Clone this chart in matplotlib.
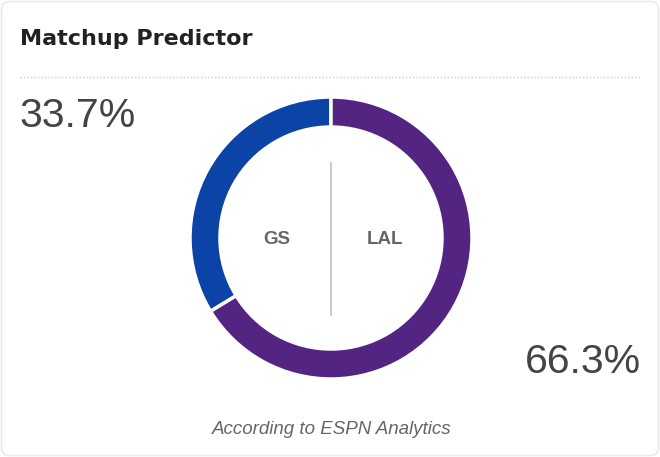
import matplotlib.pyplot as plt
from matplotlib.patches import FancyBboxPatch

teams = ['GS', 'LAL']
win_prob = [33.7, 66.3]
team_colors = ['#0b43a6', '#532482']
prob_labels = ['33.7%', '66.3%']
title = 'Matchup Predictor'
footer = 'According to ESPN Analytics'

W, H = 660, 457
fig = plt.figure(figsize=(W / 100, H / 100), dpi=100)
ax = fig.add_axes([0, 0, 1, 1])

def Y(y):
    # pixel row (from top) to data y
    return H - y

cx, cy = 331, 238
ax.pie(win_prob, colors=team_colors, startangle=90, counterclock=True,
       radius=141, center=(cx, Y(cy)),
       wedgeprops=dict(width=30, edgecolor='white', linewidth=2.5))

# card border
ax.add_patch(FancyBboxPatch((1.5, 1.5), W - 3, H - 3,
                            boxstyle='round,pad=0,rounding_size=8',
                            fc='none', ec='#ebebeb', lw=1.2, zorder=0))

ax.text(20, Y(39), title, fontsize=16, fontweight='heavy',
        color='#222222', va='center', ha='left', family='DejaVu Sans')
ax.plot([20, 641], [Y(77), Y(77)], color='#cccccc', lw=1, ls=(0, (1, 1.5)))

ax.text(19, Y(116), prob_labels[0], fontsize=29.5, color='#444444',
        va='center', ha='left', family='Liberation Sans')
ax.text(641, Y(362), prob_labels[1], fontsize=29.5, color='#444444',
        va='center', ha='right', family='Liberation Sans')

# divider and team labels inside the ring
ax.plot([cx, cx], [Y(163), Y(315)], color='#cccccc', lw=1.5)
ax.text(277, Y(240), teams[0], fontsize=13.5, fontweight='bold', color='#666666',
        va='center', ha='center', family='Liberation Sans')
ax.text(385, Y(240), teams[1], fontsize=13.5, fontweight='bold', color='#666666',
        va='center', ha='center', family='Liberation Sans')

ax.text(332, Y(430), footer, fontsize=13.5, style='italic', color='#666666',
        va='center', ha='center', family='Liberation Sans')

ax.set_xlim(0, W)
ax.set_ylim(0, H)
ax.set_aspect('auto')
ax.axis('off')
fig.savefig('out.png', dpi=100)
